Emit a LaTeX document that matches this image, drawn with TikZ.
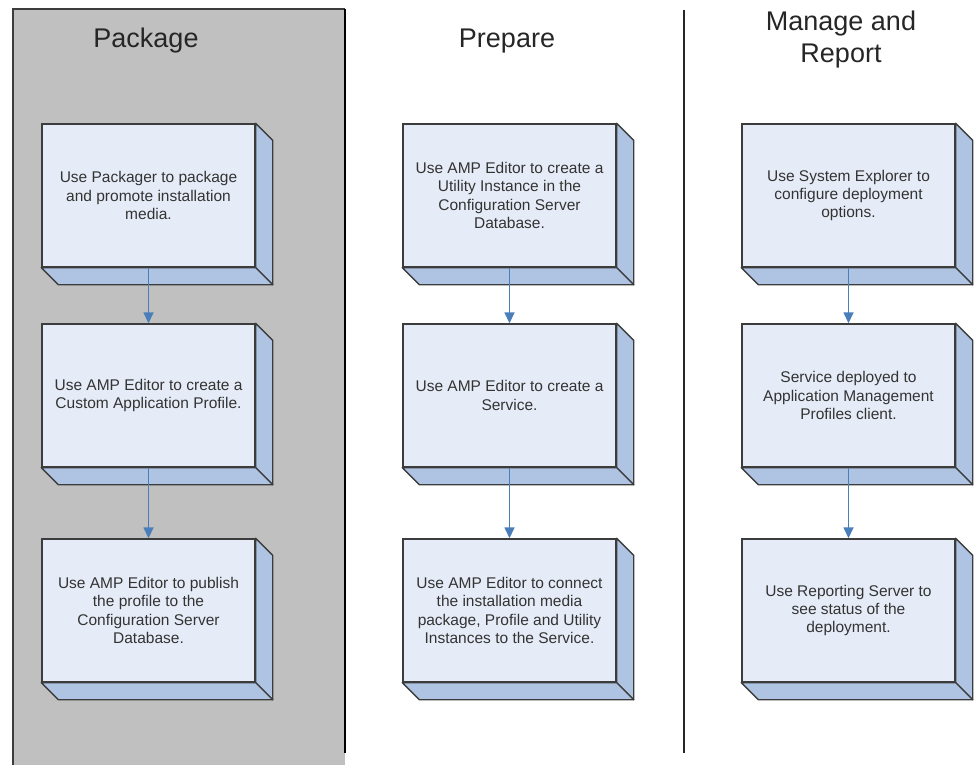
\documentclass[tikz,border=0pt]{standalone}
\usepackage{fontspec}
\setmainfont{Liberation Sans}
\usetikzlibrary{arrows.meta,calc}
\definecolor{panelgray}{HTML}{C0C0C0}
\definecolor{frontblue}{HTML}{E6ECF7}
\definecolor{sideblue}{HTML}{AFC4E3}
\definecolor{edgegray}{HTML}{3C3C3C}
\definecolor{arrowblue}{HTML}{4A7EBB}
\definecolor{txtgray}{HTML}{333333}
\tikzset{
  stepbox/.style={draw=edgegray, line width=1.4pt, fill=frontblue, minimum width=213pt,
    minimum height=143pt, inner sep=0pt, align=center, text=txtgray,
    font=\fontsize{15.5}{18.3}\selectfont},
  sideface/.style={draw=edgegray, line width=1.4pt, fill=sideblue, line join=round},
  flowarrow/.style={draw=arrowblue, line width=1.5pt, -{Triangle[length=11pt,width=10pt]}},
  coltitle/.style={align=center, font=\fontsize{27}{32}\selectfont, text=black!85}
}
\newcommand\slabfaces[1]{%
  \path[sideface] (#1.north east) -- ++(17,17) -- ($(#1.south east)+(17,17)$) -- (#1.south east) -- cycle;
  \path[sideface] (#1.south west) -- (#1.south east) -- ++(17,17) -- ($(#1.south west)+(17,17)$) -- cycle;
}
\begin{document}
\begin{tikzpicture}[x=1pt, y=-1pt]
\useasboundingbox (0,0) rectangle (974,764);
% Package panel
\fill[panelgray] (13,9) rectangle (345,770);
\draw[edgegray, line width=1.2pt] (13,770) -- (13,9) -- (345,9);
\draw[black, line width=2pt] (345,9) -- (345,753);
% divider
\draw[black!85, line width=2pt] (684,10) -- (684,753);
% titles
\node[coltitle, anchor=base] (t1) at (146,47) {Package};
\node[coltitle, anchor=base] (t2) at (507,47) {Prepare};
\node[coltitle, anchor=center] (t3) at (841,40) {Manage and\\Report};
% boxes
\node[stepbox] (a1) at (148.5,195.5) {Use Packager to package\\and promote installation\\media.};
\node[stepbox] (a2) at (148.5,395.5) {Use AMP Editor to create a\\Custom Application Profile.};
\node[stepbox] (a3) at (148.5,610.5) {Use AMP Editor to publish\\the profile to the\\Configuration Server\\Database.};
\node[stepbox] (b1) at (509.5,195.5) {Use AMP Editor to create a\\Utility Instance in the\\Configuration Server\\Database.};
\node[stepbox] (b2) at (509.5,395.5) {Use AMP Editor to create a\\Service.};
\node[stepbox] (b3) at (509.5,610.5) {Use AMP Editor to connect\\the installation media\\package, Profile and Utility\\Instances to the Service.};
\node[stepbox] (c1) at (848.5,195.5) {Use System Explorer to\\configure deployment\\options.};
\node[stepbox] (c2) at (848.5,395.5) {Service deployed to\\Application Management\\Profiles client.};
\node[stepbox] (c3) at (848.5,610.5) {Use Reporting Server to\\see status of the\\deployment.};
\foreach \n in {a1,a2,a3,b1,b2,b3,c1,c2,c3} {\slabfaces{\n}}
% arrows
\draw[flowarrow] (a1.south) -- (a2.north);
\draw[flowarrow] (a2.south) -- (a3.north);
\draw[flowarrow] (b1.south) -- (b2.north);
\draw[flowarrow] (b2.south) -- (b3.north);
\draw[flowarrow] (c1.south) -- (c2.north);
\draw[flowarrow] (c2.south) -- (c3.north);
\end{tikzpicture}
\end{document}
